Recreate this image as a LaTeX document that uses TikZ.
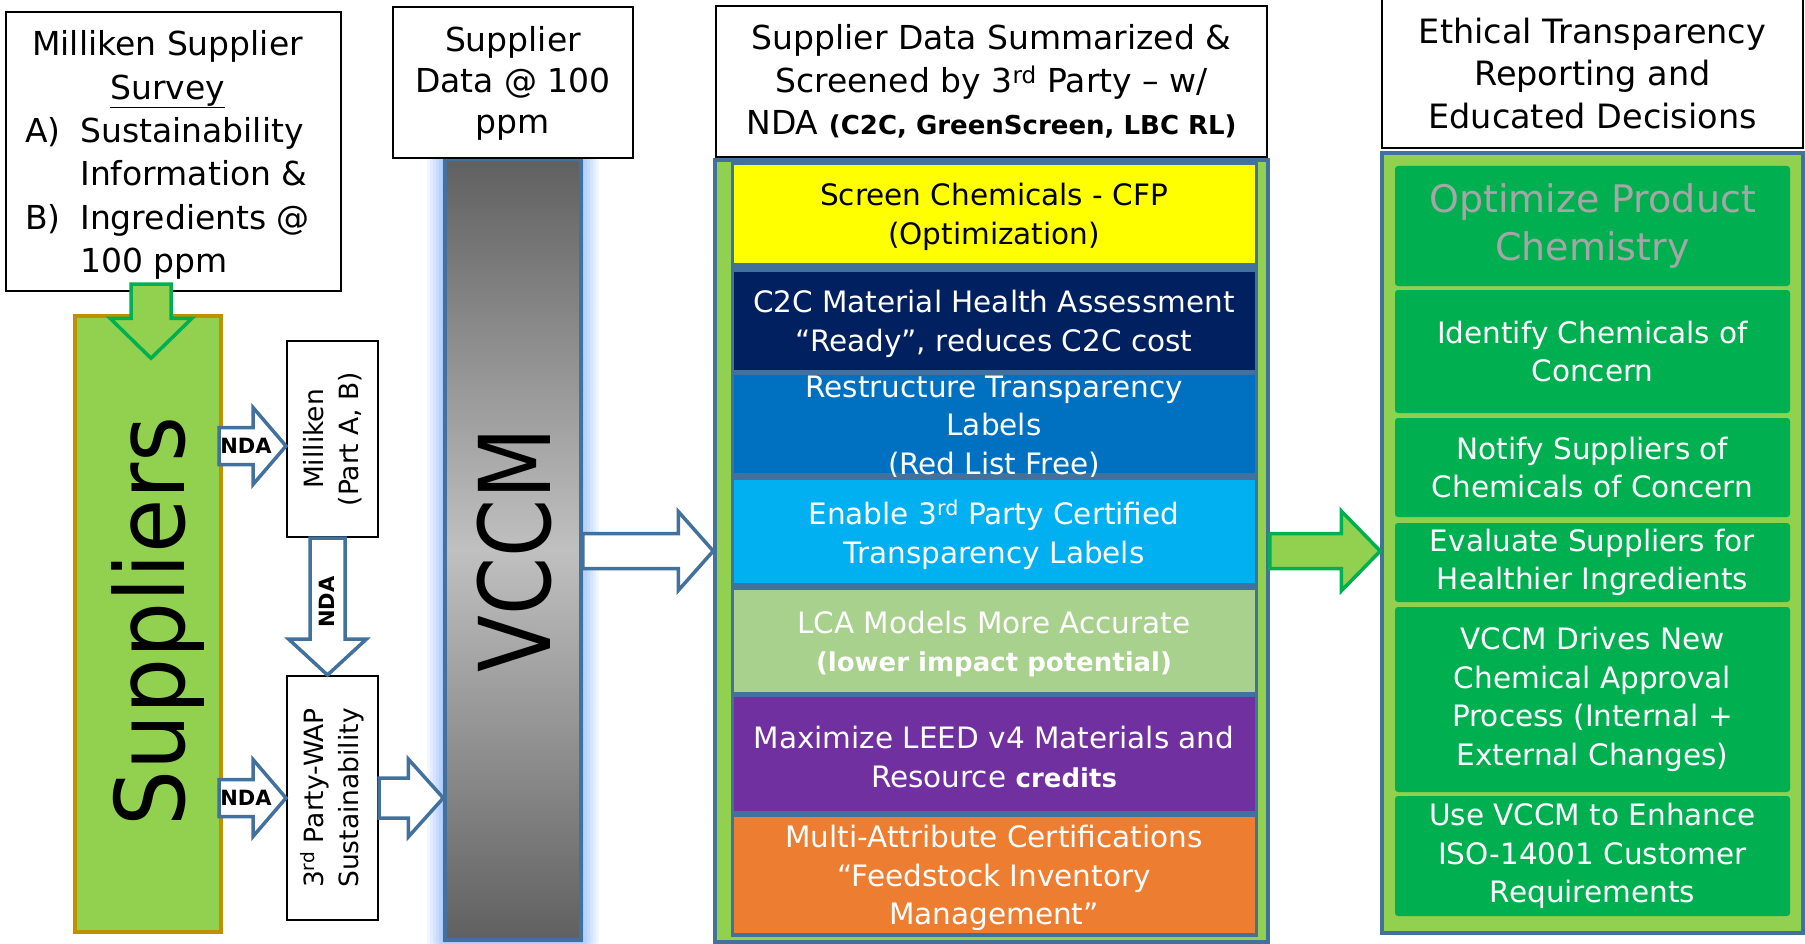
\documentclass[tikz,border=0pt]{standalone}
\usepackage{fontspec}
\usepackage{graphicx}
\setmainfont{DejaVu Sans}
\usetikzlibrary{calc,positioning}
\definecolor{edgeblue}{RGB}{65,113,156}
\definecolor{leafgreen}{RGB}{146,208,80}
\definecolor{deepgreen}{RGB}{0,176,80}
\definecolor{goldedge}{RGB}{191,144,0}
\definecolor{glowblue}{RGB}{160,195,255}
\definecolor{vdark}{RGB}{96,96,96}
\definecolor{vlight}{RGB}{192,192,192}
\definecolor{cYellow}{RGB}{255,255,0}
\definecolor{cNavy}{RGB}{0,32,96}
\definecolor{cBlue}{RGB}{0,112,192}
\definecolor{cSky}{RGB}{0,176,240}
\definecolor{cSage}{RGB}{169,209,142}
\definecolor{cPurple}{RGB}{112,48,160}
\definecolor{cOrange}{RGB}{237,125,49}
\definecolor{greytext}{RGB}{166,166,166}
\newcommand{\fsz}[2]{\fontsize{#1}{#2}\selectfont}
\newcommand{\boldbit}[1]{{\fontsize{26}{38.5}\selectfont\bfseries #1}}
% block arrow: [style]{from}{to}{shaft half}{head half}{head length}
\newcommand{\blockarrow}[6][]{%
  \coordinate (hb) at ($(#3)!#6!(#2)$);
  \draw[#1] ($(#2)!#4!90:(#3)$) -- ($(hb)!#4!90:(#3)$) -- ($(hb)!#5!90:(#3)$) -- (#3)
    -- ($(hb)!#5!-90:(#3)$) -- ($(hb)!#4!-90:(#3)$) -- ($(#2)!#4!-90:(#3)$) -- cycle;
}
\begin{document}
\begin{tikzpicture}[x=1pt,y=-1pt, font=\fsz{29.5}{38.5},
    plainbox/.style={draw=black, line width=2pt, fill=white, inner sep=0pt, align=center},
    navarrow/.style={draw=edgeblue, line width=3.5pt, fill=white},
    grarrow/.style={draw=deepgreen, line width=3.5pt, fill=leafgreen},
    panel/.style={draw=edgeblue, line width=3.5pt, fill=leafgreen, inner sep=0pt},
    midbox/.style={draw=edgeblue, line width=3pt, minimum width=524pt, inner sep=0pt},
    rightbox/.style={fill=deepgreen, rounded corners=3pt, minimum width=395pt, inner sep=0pt, align=center},
    ndalabel/.style={font=\fsz{21}{21}\bfseries, inner sep=0pt}]
  \fill[white] (0,0) rectangle (1805,944);
  \useasboundingbox (0,0) rectangle (1805,944);

  % survey and suppliers
  \node[plainbox, minimum width=335pt, minimum height=279pt] (survey) at (173.5,151.5) {};
  \node[anchor=base west, inner sep=0pt, font=\fsz{33}{43.3}] (surveytxt) at (25,56) {%
    \begin{tabular}[t]{@{}l@{\hspace{19.6pt}}l@{}}
      \multicolumn{2}{@{}c@{}}{Milliken Supplier}\\
      \multicolumn{2}{@{}c@{}}{\underline{Survey}}\\
      A) & Sustainability\\
         & Information \&\\
      B) & Ingredients @\\
         & 100 ppm
    \end{tabular}};
  \node[draw=goldedge, line width=3.5pt, fill=leafgreen, minimum width=146pt, minimum height=616pt] (sup) at (148,624) {};
  \node[rotate=90, font=\fsz{96}{100}, inner sep=0pt] (suptxt) at (158,622) {\scalebox{0.92}[1]{Suppliers}};
  \coordinate (gtop) at ($(survey.south)+(-22.5,-8)$);
  \coordinate (gtip) at ($(sup.north)+(3,44)$);
  \blockarrow[grarrow]{gtop}{gtip}{20pt}{41pt}{40pt}

  % Milliken and 3rd party boxes
  \node[plainbox, minimum width=91pt, minimum height=196pt] (mil) at (332.5,439) {};
  \node[rotate=90, align=center, font=\fsz{26.5}{35}] (miltxt) at (mil.center) {Milliken\\(Part A, B)};
  \node[plainbox, minimum width=91pt, minimum height=244pt] (wap) at (332.5,798) {};
  \node[rotate=90, align=center, font=\fsz{26.5}{35}] (waptxt) at (wap.center) {3\textsuperscript{rd} Party-WAP\\Sustainability};

  \coordinate (ndaA) at (219,446);
  \blockarrow[navarrow]{ndaA}{mil.west |- ndaA}{18.5pt}{38.5pt}{33pt}
  \node[ndalabel] (ndaa) at (246,446) {NDA};
  \coordinate (ndaB) at (219,798);
  \blockarrow[navarrow]{ndaB}{wap.west}{18.5pt}{38.5pt}{33pt}
  \node[ndalabel] (ndab) at (246,798) {NDA};
  \coordinate (ndaC) at ($(mil.south)+(-5,0)$);
  \blockarrow[navarrow]{ndaC}{ndaC |- wap.north}{17.5pt}{39pt}{36pt}
  \node[ndalabel, rotate=90] (ndac) at (327,602) {NDA};

  % VCCM column
  \foreach \g/\c in {18/15,15/30,12/45,9/60,6/75,3/90}
    \fill[glowblue!\c!white, rounded corners=\g pt] (445-\g,159-\g) rectangle (581+\g,940+\g);
  \node[minimum width=136pt, minimum height=781pt, draw=edgeblue, line width=3.5pt,
        top color=vdark, bottom color=vdark, middle color=vlight] (vccm) at (513,549.5) {};
  \node[rotate=90, font=\fsz{99}{100}, inner sep=0pt] (vccmtxt) at (514,550) {\scalebox{0.84}[1]{VCCM}};
  \node[plainbox, minimum width=240pt, minimum height=151pt, font=\fsz{33}{41}] (sdata) at (513,83) {Supplier\\Data @ 100\\ppm};
  \blockarrow[navarrow]{wap.east}{vccm.west |- wap.east}{20pt}{39pt}{35pt}

  % middle column
  \node[plainbox, minimum width=551pt, minimum height=151pt, font=\fsz{33}{42.5}] (mhead) at (991.5,81.5)
    {Supplier Data Summarized \&\\Screened by 3\textsuperscript{rd} Party – w/\\NDA \boldbit{(C2C, GreenScreen, LBC RL)}};
  \node[panel, minimum width=553pt, minimum height=782pt] (mid) at (991.5,551) {};
  \fill[edgeblue] (731,163) rectangle (1258,937);
  \foreach \ya/\yb/\col/\tc/\txt [count=\i] in {
      163.5/264.5/cYellow/black/{Screen Chemicals - CFP\\(Optimization)},
      270.5/371.5/cNavy/white/{C2C Material Health Assessment\\“Ready”, reduces C2C cost},
      373.5/474.5/cBlue/white/{Restructure Transparency\\Labels\\(Red List Free)},
      478.5/584.5/cSky/white/{Enable 3\textsuperscript{rd} Party Certified\\Transparency Labels},
      588.5/693.5/cSage/white/{LCA Models More Accurate\\\boldbit{(lower impact potential)}},
      695.5/812.5/cPurple/white/{Maximize LEED v4 Materials and\\Resource \boldbit{credits}},
      815.5/934.5/cOrange/white/{Multi-Attribute Certifications\\“Feedstock Inventory\\Management”}}{
    \node[midbox, fill=\col, minimum height={(\yb-\ya)*1pt}] (item\i) at (994,{(\ya+\yb)/2}) {};
    \node[align=center, text=\tc, inner sep=0pt] (itemtxt\i) at ($(item\i.center)+(0,3)$) {\txt};
  }
  \blockarrow[navarrow]{vccm.east |- mid.west}{mid.west}{17.5pt}{39.5pt}{35pt}

  % right column
  \node[plainbox, minimum width=421pt, minimum height=149pt, font=\fsz{33.5}{42.5}] (rhead) at (1592.5,73.5)
    {Ethical Transparency\\Reporting and\\Educated Decisions};
  \node[panel, minimum width=421pt, minimum height=780pt] (rpan) at (1592.5,543) {};
  \node[rightbox, minimum height=120pt, text=greytext, font=\fsz{38}{48}] (r1) at (1592.5,226) {Optimize Product\\Chemistry};
  \foreach \ya/\yb/\txt [count=\i from 2] in {
      290/413/{Identify Chemicals of\\Concern},
      418/517/{Notify Suppliers of\\Chemicals of Concern},
      523/602/{Evaluate Suppliers for\\Healthier Ingredients},
      607/792/{VCCM Drives New\\Chemical Approval\\Process (Internal +\\External Changes)},
      796/916/{Use VCCM to Enhance\\ISO-14001 Customer\\Requirements}}
    \node[rightbox, text=white, minimum height={(\yb-\ya)*1pt}] (r\i) at (1592.5,{(\ya+\yb)/2}) {\txt};
  \blockarrow[grarrow]{mid.east}{rpan.west |- mid.east}{17.5pt}{40pt}{39pt}
\end{tikzpicture}
\end{document}
